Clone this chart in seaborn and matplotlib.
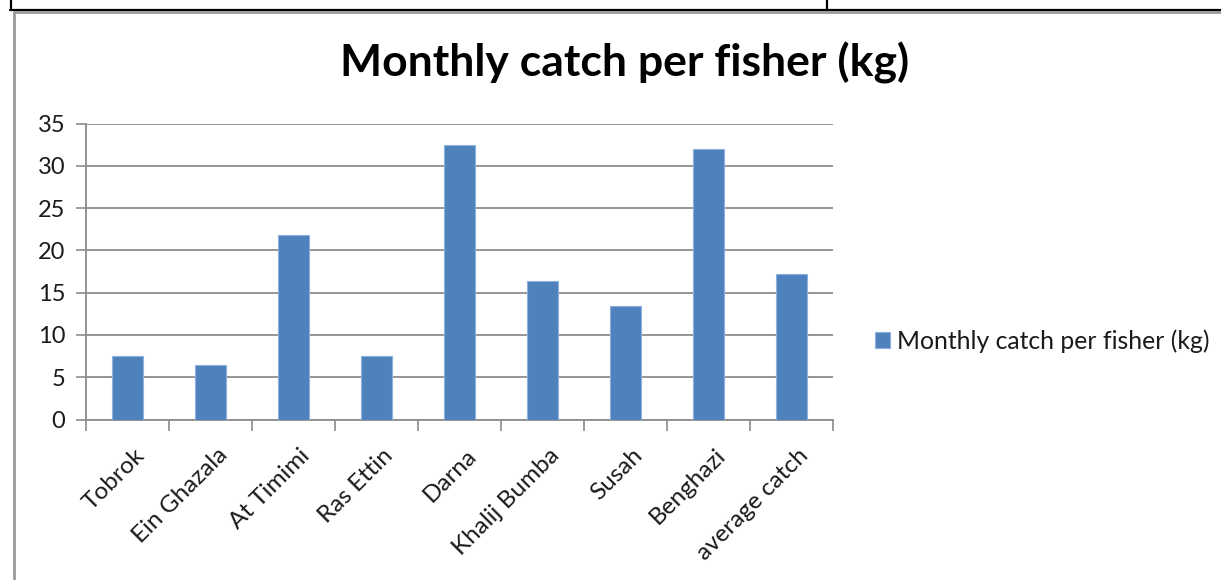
import matplotlib
matplotlib.use("Agg")
import matplotlib.pyplot as plt
from matplotlib.lines import Line2D
from matplotlib.ticker import FixedLocator
from matplotlib.transforms import ScaledTranslation
import seaborn as sns
import pandas as pd

# Monthly catch per fisher (kg) by landing site
sites = ["Tobrok", "Ein Ghazala", "At Timimi", "Ras Ettin", "Darna",
         "Khalij Bumba", "Susah", "Benghazi", "average catch"]
catch_kg = [7.5, 6.4, 21.8, 7.5, 32.5, 16.4, 13.4, 32.0, 17.2]
y_ticks = [0, 5, 10, 15, 20, 25, 30, 35]
series_name = "Monthly catch per fisher (kg)"
title = "Monthly catch per fisher (kg)"

sns.set_theme(style="white")
plt.rcParams["font.family"] = ["Lato", "DejaVu Sans"]

df = pd.DataFrame({"site": sites, "catch": catch_kg})

fig = plt.figure(figsize=(12.21, 5.80), dpi=100)
ax = fig.add_axes([0.0704, 0.2767, 0.6118, 0.5103])

BAR = "#4F81BD"
GRID = "#8C8C8C"
TEXT = "#1a1a1a"

sns.barplot(data=df, x="site", y="catch", color=BAR, saturation=1, width=0.38,
            edgecolor="#8DB0DD", linewidth=0.8, ax=ax, label=series_name,
            zorder=3)

ax.set_xlim(-0.5, len(sites) - 0.5)
ax.set_ylim(0, 35)
ax.set_yticks(y_ticks)
ax.set_yticklabels([str(t) for t in y_ticks], fontsize=17, color=TEXT)
ax.yaxis.grid(True, color=GRID, linewidth=1.3, zorder=0)
ax.xaxis.grid(False)
ax.set_axisbelow(True)

# category labels at centres, tick marks at category boundaries
ax.set_xticks(range(len(sites)))
ax.set_xticklabels(sites, rotation=45, ha="right", rotation_mode="anchor",
                   fontsize=17.5, color=TEXT)
ax.tick_params(axis="x", which="major", length=0, pad=18)
shift = ScaledTranslation(6 / 100, 0, fig.dpi_scale_trans)
for lbl in ax.get_xticklabels():
    lbl.set_transform(lbl.get_transform() + shift)
ax.xaxis.set_minor_locator(FixedLocator([i - 0.5 for i in range(len(sites) + 1)]))
ax.tick_params(axis="x", which="minor", length=8, width=1.2, color=GRID,
               direction="out", bottom=True)
ax.tick_params(axis="y", length=7, width=1.2, color=GRID, direction="out",
               left=True, pad=8)
ax.set_xlabel("")
ax.set_ylabel("")

for side in ["top", "right"]:
    ax.spines[side].set_visible(False)
for side in ["left", "bottom"]:
    ax.spines[side].set_color(GRID)
    ax.spines[side].set_linewidth(1.3)

leg = ax.legend(loc="center left", bbox_to_anchor=(875 / 1221, 1 - 341 / 580),
                bbox_transform=fig.transFigure, frameon=False, fontsize=17.8,
                handlelength=0.6, handleheight=0.6, handletextpad=0.3,
                borderpad=0, borderaxespad=0)
for t in leg.get_texts():
    t.set_color(TEXT)

fig.text(625 / 1221, 1 - 63 / 580, title, ha="center", va="center",
         fontsize=32, fontweight="bold", color="black")

# surrounding frame: table rule on top, chart border below it
W, H = 1221, 580
def fx(x):
    return x / W
def fy(y):
    return 1 - y / H

fig.add_artist(Line2D([fx(10), fx(1221)], [fy(10), fy(10)], color="black",
                      linewidth=1.6, transform=fig.transFigure))
fig.add_artist(Line2D([fx(10.5), fx(10.5)], [fy(0), fy(10)], color="black",
                      linewidth=1.6, transform=fig.transFigure))
fig.add_artist(Line2D([fx(827), fx(827)], [fy(0), fy(10)], color="black",
                      linewidth=1.6, transform=fig.transFigure))
fig.add_artist(Line2D([fx(13.5), fx(1221)], [fy(12), fy(12)], color="#9A9A9A",
                      linewidth=2.0, transform=fig.transFigure))
fig.add_artist(Line2D([fx(13.5), fx(13.5)], [fy(12), fy(580)], color="#9A9A9A",
                      linewidth=2.0, transform=fig.transFigure))

fig.savefig("out.png", dpi=100)
